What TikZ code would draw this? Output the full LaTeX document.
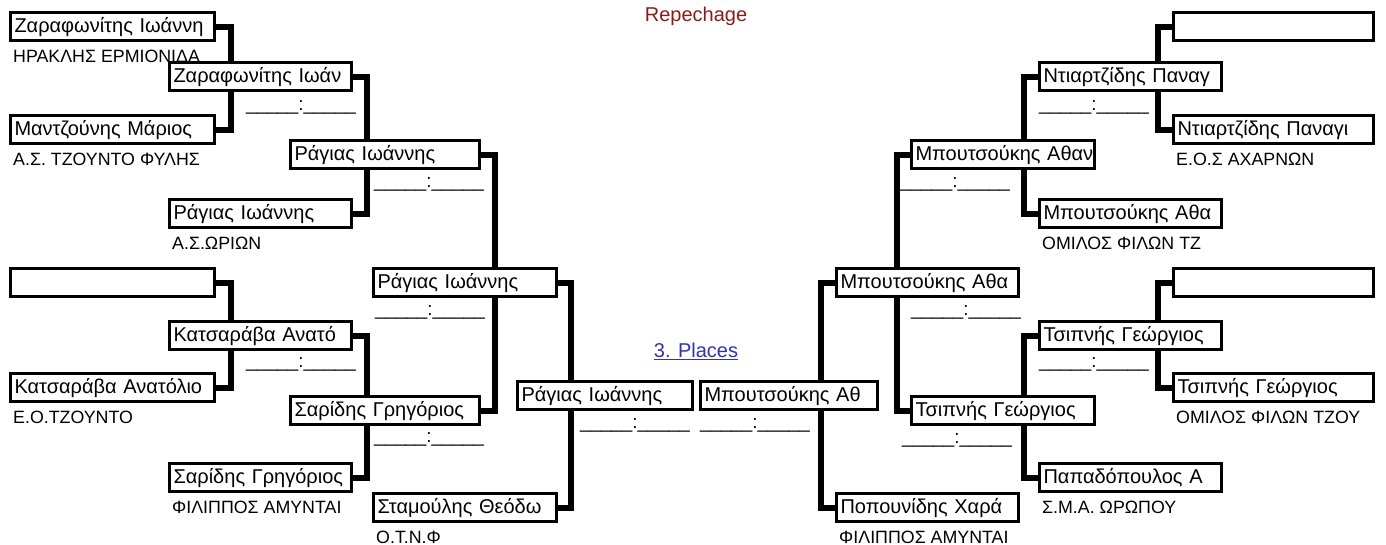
\documentclass[tikz,border=0pt]{standalone}
\usepackage{fontspec}
\setmainfont{Liberation Sans}
\usetikzlibrary{calc,backgrounds}

\definecolor{repred}{RGB}{139,26,26}
\definecolor{linkblue}{RGB}{51,51,170}
\newcommand{\namefont}{\fontsize{20}{22}\selectfont}
\newcommand{\clubfont}{\fontsize{17.8}{20}\selectfont}

\tikzset{
  player/.style={draw, fill=white, line width=3pt, anchor=north west,
    minimum height=28pt, text width=#1, inner xsep=4pt, inner ysep=0pt,
    align=left, text height=16pt, text depth=4pt, font=\namefont,
    execute at begin node={\hbox\bgroup}, execute at end node={\egroup}},
  club/.style={anchor=base west, inner sep=0pt, font=\clubfont},
  score/.style={anchor=base, inner sep=0pt, font=\fontsize{18.8}{20}\selectfont},
  bracket/.style={line width=6pt, line join=miter},
}

\begin{document}
\begin{tikzpicture}[x=1pt,y=-1pt]
\useasboundingbox (0,0) rectangle (1386,544);

\node[font=\namefont, text=repred] (rep) at (696,16) {Repechage};
\node[font=\namefont, text=linkblue] (places) at (696,351) {\underline{3. Places}};

% left half
\node[player=196pt] (la1) at (9,11) {Ζαραφωνίτης Ιωάννη};
\node[player=196pt] (la2) at (9,114) {Μαντζούνης Μάριος};
\node[player=196pt] (la3) at (9,267) {};
\node[player=196pt] (la4) at (9,372) {Κατσαράβα Ανατόλιο};
\node[club] (la1c) at ($(la1.south west)+(4,20)$) {ΗΡΑΚΛΗΣ ΕΡΜΙΟΝΙΔΑ};
\node[club] (la2c) at ($(la2.south west)+(4,20)$) {Α.Σ. ΤΖΟΥΝΤΟ ΦΥΛΗΣ};
\node[club] (la4c) at ($(la4.south west)+(4,20)$) {Ε.Ο.ΤΖΟΥΝΤΟ};

\node[player=174pt] (lb1) at (168,61) {Ζαραφωνίτης Ιωάν};
\node[player=174pt] (lb2) at (168,198) {Ράγιας Ιωάννης};
\node[player=174pt] (lb3) at (168,320) {Κατσαράβα Ανατό};
\node[player=174pt] (lb4) at (168,462) {Σαρίδης Γρηγόριος};
\node[club] (lb2c) at ($(lb2.south west)+(4,20)$) {Α.Σ.ΩΡΙΩΝ};
\node[club] (lb4c) at ($(lb4.south west)+(4,20)$) {ΦΙΛΙΠΠΟΣ ΑΜΥΝΤΑΙ};

\node[player=181pt] (lc1) at (289,139) {Ράγιας Ιωάννης};
\node[player=181pt] (lc2) at (289,395) {Σαρίδης Γρηγόριος};

\node[player=175pt] (ld1) at (372,267) {Ράγιας Ιωάννης};
\node[player=175pt] (ld2) at (372,492) {Σταμούλης Θεόδω};
\node[club] (ld2c) at ($(ld2.south west)+(4,20)$) {Ο.Τ.Ν.Φ};

\node[player=167pt] (le) at (516,380) {Ράγιας Ιωάννης};

% right half
\node[player=169pt] (re) at (699,380) {Μπουτσούκης Αθ};

\node[player=174pt] (rd1) at (835,267) {Μπουτσούκης Αθα};
\node[player=174pt] (rd2) at (835,492) {Ποπουνίδης Χαρά};
\node[club] (rd2c) at ($(rd2.south west)+(4,20)$) {ΦΙΛΙΠΠΟΣ ΑΜΥΝΤΑΙ};

\node[player=175pt] (rc1) at (910,139) {Μπουτσούκης Αθαν};
\node[player=175pt] (rc2) at (910,395) {Τσιπνής Γεώργιος};

\node[player=174pt] (rb1) at (1038,61) {Ντιαρτζίδης Παναγ};
\node[player=174pt] (rb2) at (1038,198) {Μπουτσούκης Αθα};
\node[player=174pt] (rb3) at (1038,320) {Τσιπνής Γεώργιος};
\node[player=174pt] (rb4) at (1038,462) {Παπαδόπουλος Α};
\node[club] (rb2c) at ($(rb2.south west)+(4,20)$) {ΟΜΙΛΟΣ ΦΙΛΩΝ ΤΖ};
\node[club] (rb4c) at ($(rb4.south west)+(4,20)$) {Σ.Μ.Α. ΩΡΩΠΟΥ};

\node[player=192pt] (ra1) at (1172,11) {};
\node[player=192pt] (ra2) at (1172,114) {Ντιαρτζίδης Παναγι};
\node[player=192pt] (ra3) at (1172,267) {};
\node[player=192pt] (ra4) at (1172,372) {Τσιπνής Γεώργιος};
\node[club] (ra2c) at ($(ra2.south west)+(4,20)$) {Ε.Ο.Σ ΑΧΑΡΝΩΝ};
\node[club] (ra4c) at ($(ra4.south west)+(4,20)$) {ΟΜΙΛΟΣ ΦΙΛΩΝ ΤΖΟΥ};

% scores
\node[score] (sla1) at (301,110.5) {\_\_\_\_\_:\_\_\_\_\_};
\node[score] (sla2) at (301,367.5) {\_\_\_\_\_:\_\_\_\_\_};
\node[score] (slb1) at (429,187.5) {\_\_\_\_\_:\_\_\_\_\_};
\node[score] (slb2) at (429,442.5) {\_\_\_\_\_:\_\_\_\_\_};
\node[score] (slc) at (430,315.5) {\_\_\_\_\_:\_\_\_\_\_};
\node[score] (sld) at (635,428) {\_\_\_\_\_:\_\_\_\_\_};
\node[score] (srd) at (755,428) {\_\_\_\_\_:\_\_\_\_\_};
\node[score] (src) at (966,315.5) {\_\_\_\_\_:\_\_\_\_\_};
\node[score] (srb1) at (955,187.5) {\_\_\_\_\_:\_\_\_\_\_};
\node[score] (srb2) at (957,443) {\_\_\_\_\_:\_\_\_\_\_};
\node[score] (sra1) at (1094,110.5) {\_\_\_\_\_:\_\_\_\_\_};
\node[score] (sra2) at (1094,367.5) {\_\_\_\_\_:\_\_\_\_\_};

\begin{scope}[on background layer]
\draw[bracket] (la1.east) -- ++(15,0) |- (la2.east);
\draw[bracket] (la3.east) -- ++(15,0) |- (la4.east);
\draw[bracket] (lb1.east) -- ++(14,0) |- (lb2.east);
\draw[bracket] (lb3.east) -- ++(14,0) |- (lb4.east);
\draw[bracket] (lc1.east) -- ++(14,0) |- (lc2.east);
\draw[bracket] (ld1.east) -- ++(13,0) |- (ld2.east);
\draw[bracket] (rd1.west) -- ++(-14,0) |- (rd2.west);
\draw[bracket] (rc1.west) -- ++(-13,0) |- (rc2.west);
\draw[bracket] (rb1.west) -- ++(-14,0) |- (rb2.west);
\draw[bracket] (rb3.west) -- ++(-14,0) |- (rb4.west);
\draw[bracket] (ra1.west) -- ++(-14,0) |- (ra2.west);
\draw[bracket] (ra3.west) -- ++(-14,0) |- (ra4.west);
\end{scope}

\end{tikzpicture}
\end{document}
